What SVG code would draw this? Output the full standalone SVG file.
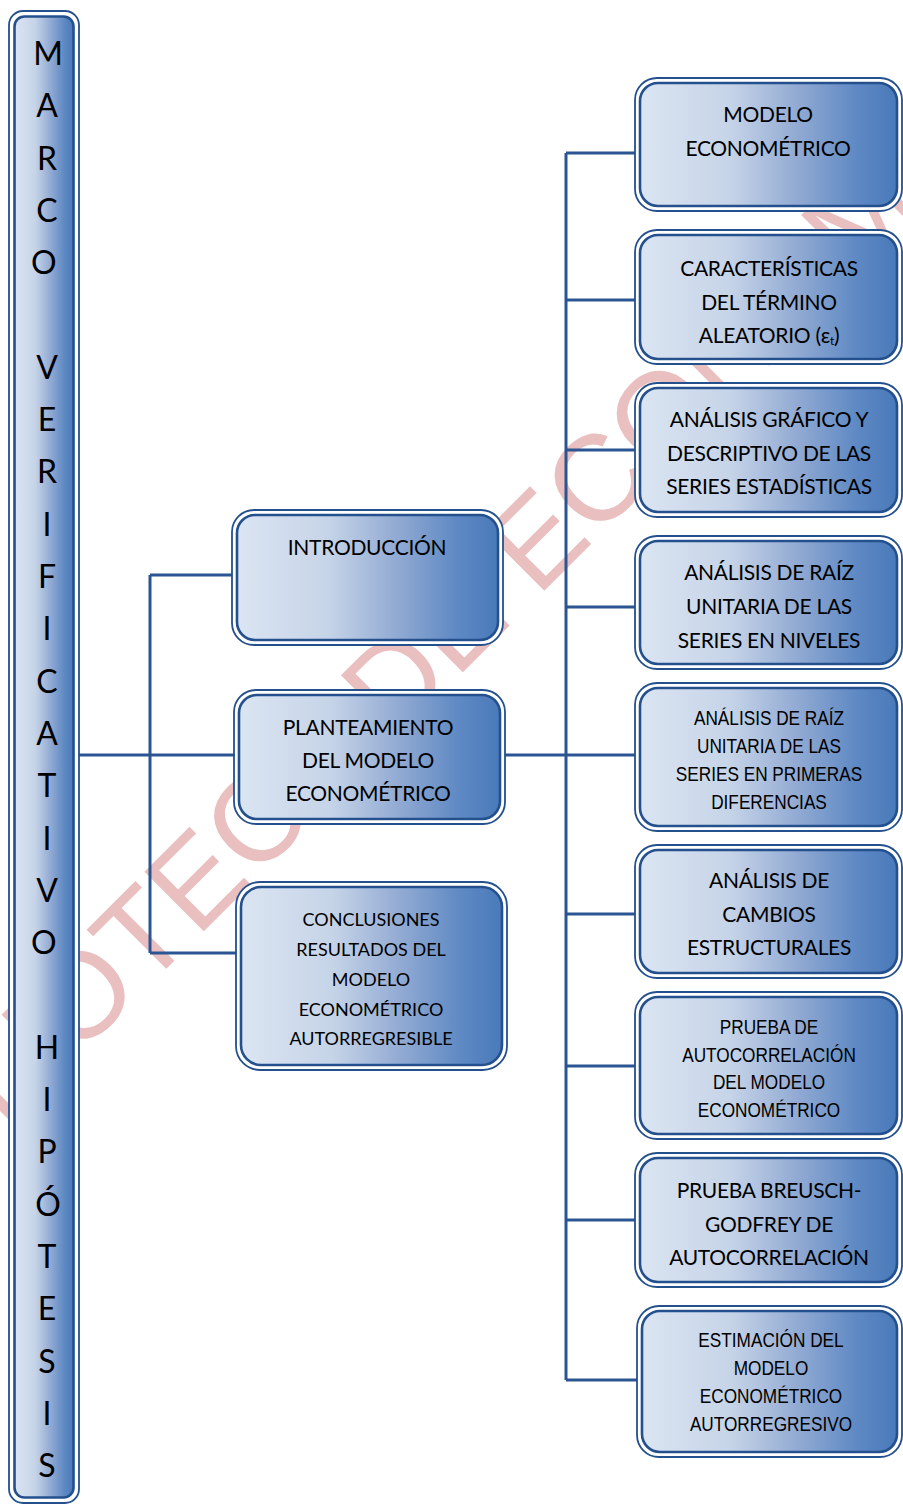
<svg xmlns="http://www.w3.org/2000/svg" width="903" height="1505" viewBox="0 0 903 1505">
<defs>
<linearGradient id="g" x1="0" y1="0" x2="1" y2="0">
<stop offset="0" stop-color="#dbe5f2"/>
<stop offset="0.35" stop-color="#c6d4e8"/>
<stop offset="0.6" stop-color="#94acd4"/>
<stop offset="0.85" stop-color="#5d88c3"/>
<stop offset="1" stop-color="#4a7aba"/>
</linearGradient>
<style>
.o{fill:#fff;stroke:#24508e;stroke-width:1.8}
.i{fill:url(#g);stroke:#24508e;stroke-width:2.6}
.t{font-family:Lato,"Liberation Sans",sans-serif;font-size:21px;fill:#000;text-anchor:middle;letter-spacing:-0.3px}
.s{font-size:18px;letter-spacing:0}
.n{font-family:"Liberation Sans",Arial,sans-serif;font-size:21px;fill:#000;text-anchor:middle}
.side{font-family:Lato,"Liberation Sans",sans-serif;font-size:32px;fill:#000;text-anchor:middle}
.c{fill:none;stroke:#2a5592;stroke-width:3}
.wm{font-family:"Liberation Sans",Arial,sans-serif;font-size:122px;fill:#eabfbf}
</style>
</defs>
<rect width="903" height="1505" fill="#fff"/>
<text class="wm" transform="translate(-134,1269) rotate(-45)">BIBLIOTECA DE ECONOMÍA</text>

<g id="connectors">
<path class="c" d="M78,755 H237 M150,575 V953 M150,575 H234 M150,953 H238 M504,755 H636 M566,153 V1380 M566,153 H636 M566,300 H636 M566,450 H636 M566,607 H636 M566,914 H636 M566,1066 H636 M566,1220 H636 M566,1380 H638"/>
</g>

<g id="sidebar">
<rect class="o" x="9" y="11" width="70" height="1492" rx="14"/>
<rect class="i" x="14.5" y="16.5" width="59" height="1481" rx="10"/>
<text class="side">
<tspan x="48" y="65">M</tspan><tspan x="47" y="117.3">A</tspan><tspan x="47" y="169.6">R</tspan><tspan x="47" y="221.9">C</tspan><tspan x="48" y="274.2">O</tspan>
<tspan x="47" y="378.8">V</tspan><tspan x="47" y="431.1">E</tspan><tspan x="47" y="483.4">R</tspan><tspan x="47" y="535.7">I</tspan><tspan x="47" y="588">F</tspan><tspan x="47" y="640.3">I</tspan><tspan x="47" y="692.6">C</tspan><tspan x="47" y="744.9">A</tspan><tspan x="47" y="797.2">T</tspan><tspan x="47" y="849.5">I</tspan><tspan x="47" y="901.8">V</tspan><tspan x="48" y="954.1">O</tspan>
<tspan x="47" y="1058.7">H</tspan><tspan x="47" y="1111">I</tspan><tspan x="47" y="1163.3">P</tspan><tspan x="48" y="1215.6">Ó</tspan><tspan x="47" y="1267.9">T</tspan><tspan x="47" y="1320.2">E</tspan><tspan x="47" y="1372.5">S</tspan><tspan x="47" y="1424.8">I</tspan><tspan x="47" y="1477.1">S</tspan>
</text>
</g>

<g id="introduccion">
<rect class="o" x="232" y="510" width="271" height="135" rx="22"/>
<rect class="i" x="237" y="515" width="261" height="125" rx="18"/>
<text class="t" x="367" y="555">INTRODUCCIÓN</text>
</g>

<g id="planteamiento">
<rect class="o" x="234" y="690" width="271" height="134" rx="22"/>
<rect class="i" x="239" y="695" width="261" height="124" rx="18"/>
<text class="t"><tspan x="368" y="734.5">PLANTEAMIENTO</tspan><tspan x="368" y="767.5">DEL MODELO</tspan><tspan x="368" y="800.5">ECONOMÉTRICO</tspan></text>
</g>

<g id="conclusiones">
<rect class="o" x="236" y="882" width="271" height="188" rx="24"/>
<rect class="i" x="241" y="887" width="261" height="178" rx="20"/>
<text class="t s"><tspan x="371" y="926">CONCLUSIONES</tspan><tspan x="371" y="956">RESULTADOS DEL</tspan><tspan x="371" y="986">MODELO</tspan><tspan x="371" y="1016">ECONOMÉTRICO</tspan><tspan x="371" y="1045">AUTORREGRESIBLE</tspan></text>
</g>

<g id="modelo">
<rect class="o" x="635" y="78" width="267" height="133" rx="22"/>
<rect class="i" x="640" y="83" width="257" height="123" rx="18"/>
<text class="t"><tspan x="768" y="122">MODELO</tspan><tspan x="768" y="156">ECONOMÉTRICO</tspan></text>
</g>

<g id="caracteristicas">
<rect class="o" x="635" y="230" width="267" height="134" rx="22"/>
<rect class="i" x="640" y="235" width="257" height="124" rx="18"/>
<text class="t"><tspan x="769" y="276">CARACTERÍSTICAS</tspan><tspan x="769" y="310">DEL TÉRMINO</tspan><tspan x="769" y="343">ALEATORIO (ε<tspan font-size="12" dy="2">t</tspan><tspan dy="-2">)</tspan></tspan></text>
</g>

<g id="grafico">
<rect class="o" x="635" y="383" width="267" height="134" rx="22"/>
<rect class="i" x="640" y="388" width="257" height="124" rx="18"/>
<text class="t"><tspan x="769" y="427">ANÁLISIS GRÁFICO Y</tspan><tspan x="769" y="461">DESCRIPTIVO DE LAS</tspan><tspan x="769" y="494">SERIES ESTADÍSTICAS</tspan></text>
</g>

<g id="raiz-niveles">
<rect class="o" x="635" y="536" width="267" height="133" rx="22"/>
<rect class="i" x="640" y="541" width="257" height="123" rx="18"/>
<text class="t"><tspan x="769" y="580">ANÁLISIS DE RAÍZ</tspan><tspan x="769" y="614">UNITARIA DE LAS</tspan><tspan x="769" y="648">SERIES EN NIVELES</tspan></text>
</g>

<g id="raiz-diferencias">
<rect class="o" x="635" y="683" width="267" height="148" rx="22"/>
<rect class="i" x="640" y="688" width="257" height="138" rx="18"/>
<g transform="translate(769,0) scale(0.82,1)">
<text class="n"><tspan x="0" y="725">ANÁLISIS DE RAÍZ</tspan><tspan x="0" y="753">UNITARIA DE LAS</tspan><tspan x="0" y="781">SERIES EN PRIMERAS</tspan><tspan x="0" y="809">DIFERENCIAS</tspan></text>
</g>
</g>

<g id="cambios">
<rect class="o" x="635" y="845" width="267" height="133" rx="22"/>
<rect class="i" x="640" y="850" width="257" height="123" rx="18"/>
<text class="t"><tspan x="769" y="888">ANÁLISIS DE</tspan><tspan x="769" y="922">CAMBIOS</tspan><tspan x="769" y="955">ESTRUCTURALES</tspan></text>
</g>

<g id="autocorrelacion">
<rect class="o" x="635" y="992" width="267" height="147" rx="22"/>
<rect class="i" x="640" y="997" width="257" height="137" rx="18"/>
<g transform="translate(769,0) scale(0.82,1)">
<text class="n"><tspan x="0" y="1034">PRUEBA DE</tspan><tspan x="0" y="1062">AUTOCORRELACIÓN</tspan><tspan x="0" y="1089">DEL MODELO</tspan><tspan x="0" y="1117">ECONOMÉTRICO</tspan></text>
</g>
</g>

<g id="breusch">
<rect class="o" x="635" y="1153" width="267" height="134" rx="22"/>
<rect class="i" x="640" y="1158" width="257" height="124" rx="18"/>
<text class="t"><tspan x="769" y="1198">PRUEBA BREUSCH-</tspan><tspan x="769" y="1232">GODFREY DE</tspan><tspan x="769" y="1265">AUTOCORRELACIÓN</tspan></text>
</g>

<g id="estimacion">
<rect class="o" x="637" y="1306" width="265" height="151" rx="22"/>
<rect class="i" x="642" y="1311" width="255" height="141" rx="18"/>
<g transform="translate(771,0) scale(0.82,1)">
<text class="n"><tspan x="0" y="1347">ESTIMACIÓN DEL</tspan><tspan x="0" y="1375">MODELO</tspan><tspan x="0" y="1403">ECONOMÉTRICO</tspan><tspan x="0" y="1431">AUTORREGRESIVO</tspan></text>
</g>
</g>
</svg>
